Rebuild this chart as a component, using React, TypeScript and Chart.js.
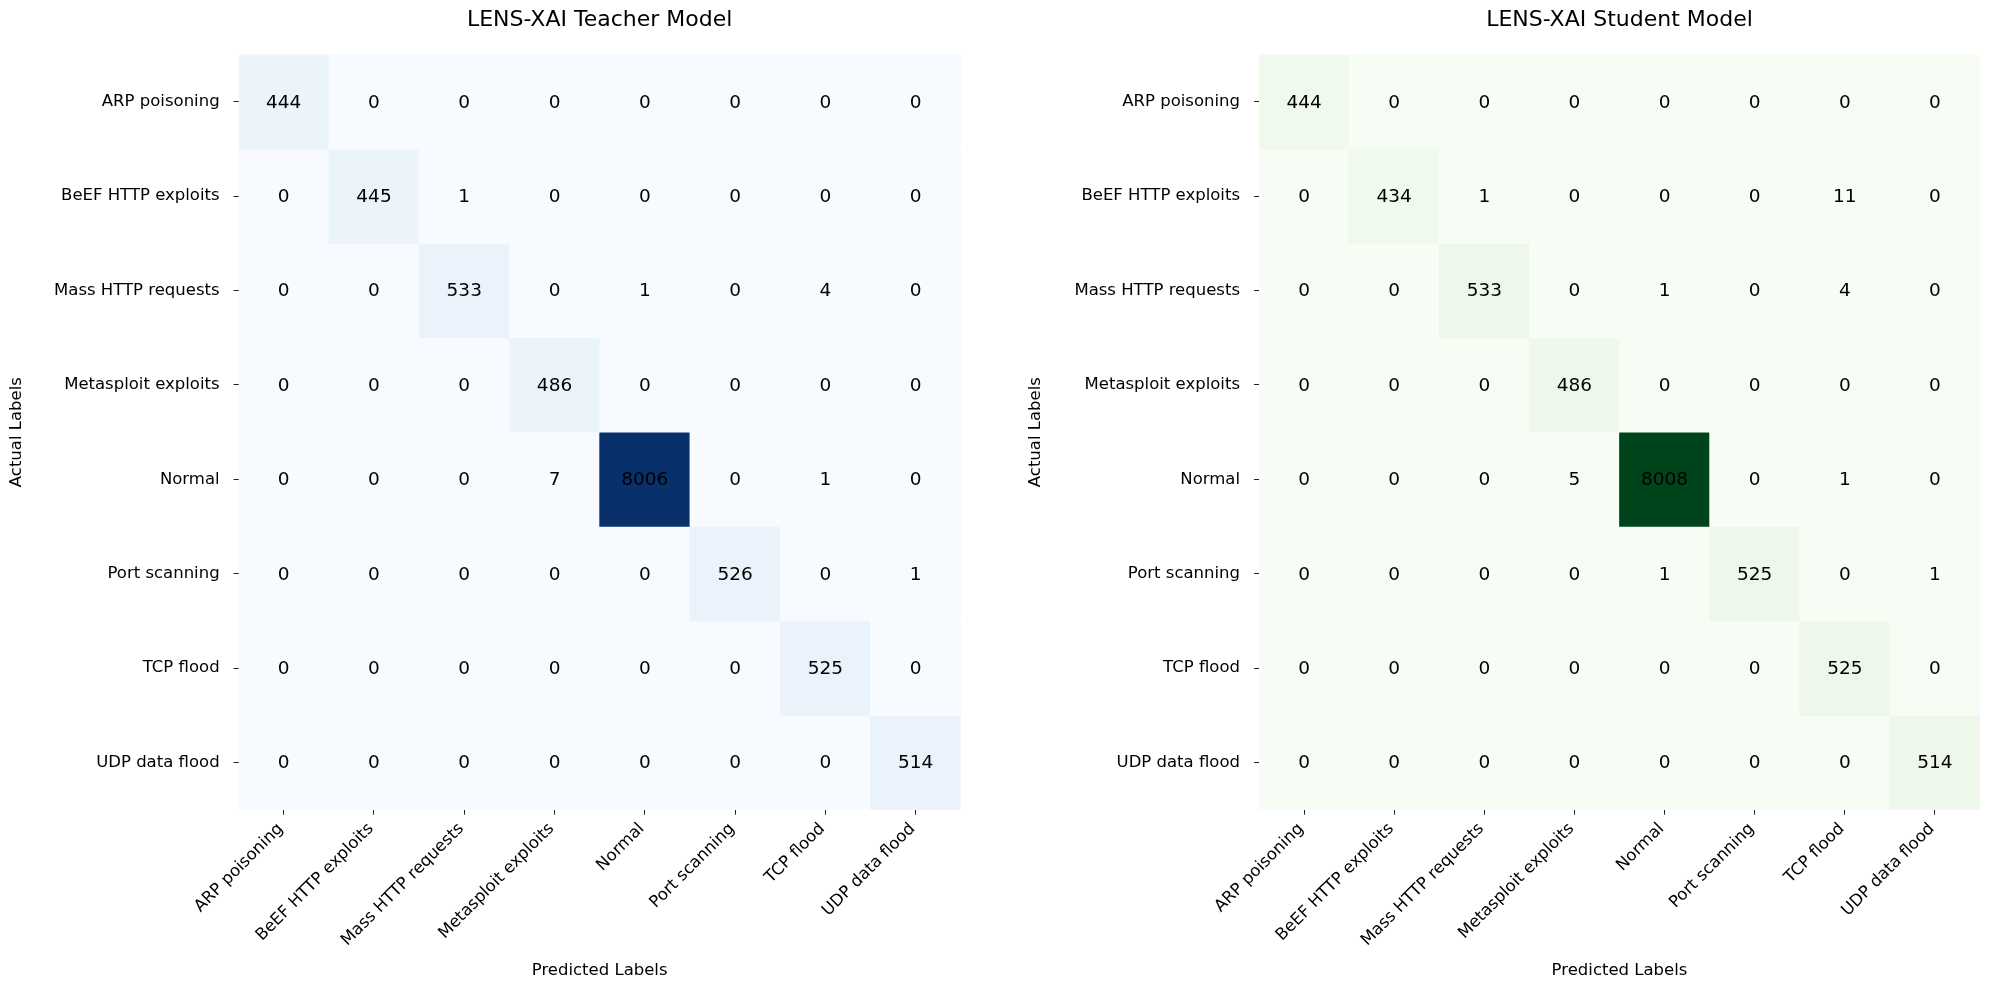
import React, { useEffect, useRef } from "react";
import { Chart, registerables } from "chart.js";

Chart.register(...registerables);

const classLabels = [
  "ARP poisoning",
  "BeEF HTTP exploits",
  "Mass HTTP requests",
  "Metasploit exploits",
  "Normal",
  "Port scanning",
  "TCP flood",
  "UDP data flood",
];

const teacherMatrix = [
  [444, 0, 0, 0, 0, 0, 0, 0],
  [0, 445, 1, 0, 0, 0, 0, 0],
  [0, 0, 533, 0, 1, 0, 4, 0],
  [0, 0, 0, 486, 0, 0, 0, 0],
  [0, 0, 0, 7, 8006, 0, 1, 0],
  [0, 0, 0, 0, 0, 526, 0, 1],
  [0, 0, 0, 0, 0, 0, 525, 0],
  [0, 0, 0, 0, 0, 0, 0, 514],
];

const studentMatrix = [
  [444, 0, 0, 0, 0, 0, 0, 0],
  [0, 434, 1, 0, 0, 0, 11, 0],
  [0, 0, 533, 0, 1, 0, 4, 0],
  [0, 0, 0, 486, 0, 0, 0, 0],
  [0, 0, 0, 5, 8008, 0, 1, 0],
  [0, 0, 0, 0, 1, 525, 0, 1],
  [0, 0, 0, 0, 0, 0, 525, 0],
  [0, 0, 0, 0, 0, 0, 0, 514],
];

const bluesStops = ["#f7fbff", "#deebf7", "#c6dbef", "#9ecae1", "#6baed6", "#4292c6", "#2171b5", "#08519c", "#08306b"];
const greensStops = ["#f7fcf5", "#e5f5e0", "#c7e9c0", "#a1d99b", "#74c476", "#41ab5d", "#238b45", "#006d2c", "#00441b"];

const FONT = "'DejaVu Sans', sans-serif";

function hexToRgb(h: string) {
  const n = parseInt(h.slice(1), 16);
  return [(n >> 16) & 255, (n >> 8) & 255, n & 255];
}

function cmap(stops: string[], t: number) {
  const tt = Math.max(0, Math.min(1, t));
  const pos = tt * (stops.length - 1);
  const i = Math.min(stops.length - 2, Math.floor(pos));
  const f = pos - i;
  const a = hexToRgb(stops[i]);
  const b = hexToRgb(stops[i + 1]);
  const c = a.map((v, k) => Math.round(v + (b[k] - v) * f));
  return `rgb(${c[0]},${c[1]},${c[2]})`;
}

type HeatProps = {
  title: string;
  matrix: number[][];
  stops: string[];
  left: number;
  yAxisWidth: number;
  yTitlePad: number;
  padRight: number;
};

function Heatmap({ title, matrix, stops, left, yAxisWidth, yTitlePad, padRight }: HeatProps) {
  const ref = useRef<HTMLCanvasElement | null>(null);
  useEffect(() => {
    if (!ref.current) return;
    const maxV = Math.max(...matrix.flat());
    const datasets = matrix.map((row, i) => ({
      label: classLabels[i],
      data: row.map(() => [i, i + 1]),
      backgroundColor: row.map((v) => cmap(stops, v / maxV)),
      borderWidth: 0,
      grouped: false,
      barPercentage: 1,
      categoryPercentage: 1,
    }));
    const annot = {
      id: "annot",
      afterDatasetsDraw(chart: any) {
        const { ctx } = chart;
        const xs = chart.scales.x;
        const ys = chart.scales.y;
        ctx.save();
        ctx.fillStyle = "#000";
        ctx.font = `18.5px ${FONT}`;
        ctx.textAlign = "center";
        ctx.textBaseline = "middle";
        matrix.forEach((row, i) => {
          row.forEach((v, j) => {
            ctx.fillText(String(v), xs.getPixelForValue(j), ys.getPixelForValue(i + 0.5) + 1);
          });
        });
        ctx.restore();
      },
    };
    const gridOpts = {
      display: true,
      drawOnChartArea: false,
      drawTicks: true,
      tickLength: 5,
      offset: false,
      color: "#222",
      lineWidth: 1,
    };
    const chart = new Chart(ref.current, {
      type: "bar",
      data: { labels: classLabels, datasets: datasets as any },
      options: {
        responsive: false,
        animation: false,
        layout: { padding: { left: 0, right: padRight, top: 0, bottom: 0 } },
        plugins: {
          legend: { display: false },
          tooltip: { enabled: false },
          title: {
            display: true,
            fullSize: false,
            text: title,
            color: "#000",
            font: { family: FONT, size: 22, weight: "normal" },
            padding: { top: 7, bottom: 21.2 },
          },
        },
        scales: {
          x: {
            type: "category",
            offset: true,
            grid: gridOpts,
            border: { display: false },
            ticks: {
              autoSkip: false,
              maxRotation: 45,
              minRotation: 45,
              padding: 4.5,
              labelOffset: -3,
              color: "#000",
              font: { family: FONT, size: 16.5 },
            },
            title: {
              display: true,
              text: "Predicted Labels",
              color: "#000",
              font: { family: FONT, size: 16.5 },
              padding: { top: 0, bottom: 8 },
            },
            afterFit: (s: any) => {
              s.height = 179.3;
            },
          },
          y: {
            type: "linear",
            min: 0,
            max: 8,
            reverse: true,
            afterBuildTicks: (s: any) => {
              s.ticks = classLabels.map((_, i) => ({ value: i + 0.5 }));
            },
            grid: gridOpts,
            border: { display: false },
            ticks: {
              autoSkip: false,
              padding: 14,
              color: "#000",
              font: { family: FONT, size: 16.5 },
              callback: (_v: any, i: number) => classLabels[i],
            },
            title: {
              display: true,
              text: "Actual Labels",
              color: "#000",
              font: { family: FONT, size: 16.5 },
              padding: { top: yTitlePad, bottom: 0 },
            },
            afterFit: (s: any) => {
              s.width = yAxisWidth;
            },
          },
        },
      } as any,
      plugins: [annot],
    });
    return () => chart.destroy();
  }, [title, matrix, stops, yAxisWidth, yTitlePad, padRight]);
  return (
    <canvas
      ref={ref}
      width={995}
      height={989}
      style={{ position: "absolute", left, top: 0, width: 995, height: 989 }}
    />
  );
}

export default function App() {
  return (
    <div style={{ position: "absolute", left: 0, top: 0, width: 1990, height: 989, background: "#fff", overflow: "hidden" }}>
      <Heatmap
        title="LENS-XAI Teacher Model"
        matrix={teacherMatrix}
        stops={bluesStops}
        left={0}
        yAxisWidth={238.6}
        yTitlePad={6.5}
        padRight={34.3}
      />
      <Heatmap
        title="LENS-XAI Student Model"
        matrix={studentMatrix}
        stops={greensStops}
        left={995}
        yAxisWidth={264}
        yTitlePad={30.6}
        padRight={10}
      />
    </div>
  );
}
